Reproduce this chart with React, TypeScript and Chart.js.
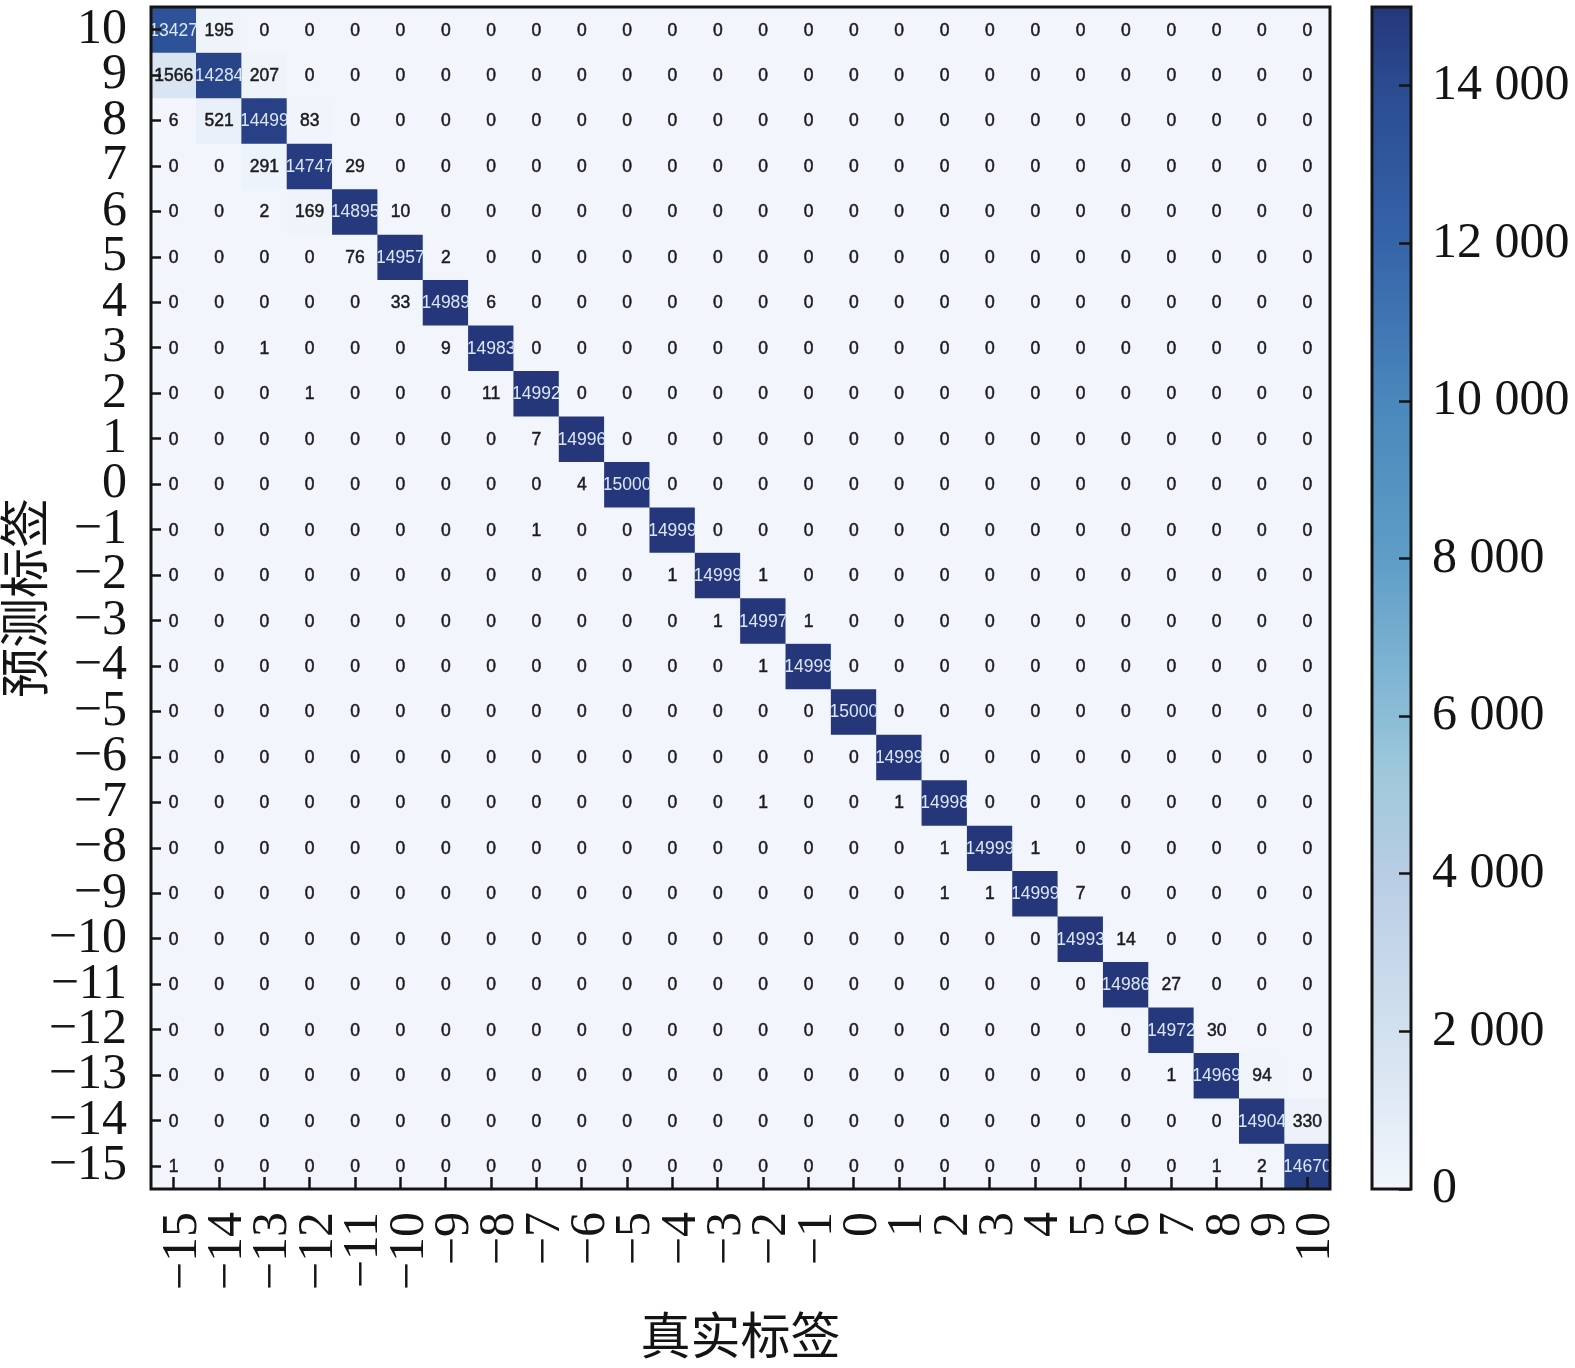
import React, { useEffect, useRef } from "react";
import { Chart, registerables } from "chart.js";

Chart.register(...registerables);

// True labels (x axis, left to right)
const trueLabels = ["−15", "−14", "−13", "−12", "−11", "−10", "−9", "−8", "−7", "−6", "−5", "−4", "−3", "−2", "−1", "0", "1", "2", "3", "4", "5", "6", "7", "8", "9", "10"];
// Predicted labels (y axis, top to bottom)
const predLabels = ["10", "9", "8", "7", "6", "5", "4", "3", "2", "1", "0", "−1", "−2", "−3", "−4", "−5", "−6", "−7", "−8", "−9", "−10", "−11", "−12", "−13", "−14", "−15"];

// Rows of the confusion matrix, one per predicted label (columns follow trueLabels)
const pred10 = [13427, 195, 0, 0, 0, 0, 0, 0, 0, 0, 0, 0, 0, 0, 0, 0, 0, 0, 0, 0, 0, 0, 0, 0, 0, 0];
const pred9 = [1566, 14284, 207, 0, 0, 0, 0, 0, 0, 0, 0, 0, 0, 0, 0, 0, 0, 0, 0, 0, 0, 0, 0, 0, 0, 0];
const pred8 = [6, 521, 14499, 83, 0, 0, 0, 0, 0, 0, 0, 0, 0, 0, 0, 0, 0, 0, 0, 0, 0, 0, 0, 0, 0, 0];
const pred7 = [0, 0, 291, 14747, 29, 0, 0, 0, 0, 0, 0, 0, 0, 0, 0, 0, 0, 0, 0, 0, 0, 0, 0, 0, 0, 0];
const pred6 = [0, 0, 2, 169, 14895, 10, 0, 0, 0, 0, 0, 0, 0, 0, 0, 0, 0, 0, 0, 0, 0, 0, 0, 0, 0, 0];
const pred5 = [0, 0, 0, 0, 76, 14957, 2, 0, 0, 0, 0, 0, 0, 0, 0, 0, 0, 0, 0, 0, 0, 0, 0, 0, 0, 0];
const pred4 = [0, 0, 0, 0, 0, 33, 14989, 6, 0, 0, 0, 0, 0, 0, 0, 0, 0, 0, 0, 0, 0, 0, 0, 0, 0, 0];
const pred3 = [0, 0, 1, 0, 0, 0, 9, 14983, 0, 0, 0, 0, 0, 0, 0, 0, 0, 0, 0, 0, 0, 0, 0, 0, 0, 0];
const pred2 = [0, 0, 0, 1, 0, 0, 0, 11, 14992, 0, 0, 0, 0, 0, 0, 0, 0, 0, 0, 0, 0, 0, 0, 0, 0, 0];
const pred1 = [0, 0, 0, 0, 0, 0, 0, 0, 7, 14996, 0, 0, 0, 0, 0, 0, 0, 0, 0, 0, 0, 0, 0, 0, 0, 0];
const pred0 = [0, 0, 0, 0, 0, 0, 0, 0, 0, 4, 15000, 0, 0, 0, 0, 0, 0, 0, 0, 0, 0, 0, 0, 0, 0, 0];
const predM1 = [0, 0, 0, 0, 0, 0, 0, 0, 1, 0, 0, 14999, 0, 0, 0, 0, 0, 0, 0, 0, 0, 0, 0, 0, 0, 0];
const predM2 = [0, 0, 0, 0, 0, 0, 0, 0, 0, 0, 0, 1, 14999, 1, 0, 0, 0, 0, 0, 0, 0, 0, 0, 0, 0, 0];
const predM3 = [0, 0, 0, 0, 0, 0, 0, 0, 0, 0, 0, 0, 1, 14997, 1, 0, 0, 0, 0, 0, 0, 0, 0, 0, 0, 0];
const predM4 = [0, 0, 0, 0, 0, 0, 0, 0, 0, 0, 0, 0, 0, 1, 14999, 0, 0, 0, 0, 0, 0, 0, 0, 0, 0, 0];
const predM5 = [0, 0, 0, 0, 0, 0, 0, 0, 0, 0, 0, 0, 0, 0, 0, 15000, 0, 0, 0, 0, 0, 0, 0, 0, 0, 0];
const predM6 = [0, 0, 0, 0, 0, 0, 0, 0, 0, 0, 0, 0, 0, 0, 0, 0, 14999, 0, 0, 0, 0, 0, 0, 0, 0, 0];
const predM7 = [0, 0, 0, 0, 0, 0, 0, 0, 0, 0, 0, 0, 0, 1, 0, 0, 1, 14998, 0, 0, 0, 0, 0, 0, 0, 0];
const predM8 = [0, 0, 0, 0, 0, 0, 0, 0, 0, 0, 0, 0, 0, 0, 0, 0, 0, 1, 14999, 1, 0, 0, 0, 0, 0, 0];
const predM9 = [0, 0, 0, 0, 0, 0, 0, 0, 0, 0, 0, 0, 0, 0, 0, 0, 0, 1, 1, 14999, 7, 0, 0, 0, 0, 0];
const predM10 = [0, 0, 0, 0, 0, 0, 0, 0, 0, 0, 0, 0, 0, 0, 0, 0, 0, 0, 0, 0, 14993, 14, 0, 0, 0, 0];
const predM11 = [0, 0, 0, 0, 0, 0, 0, 0, 0, 0, 0, 0, 0, 0, 0, 0, 0, 0, 0, 0, 0, 14986, 27, 0, 0, 0];
const predM12 = [0, 0, 0, 0, 0, 0, 0, 0, 0, 0, 0, 0, 0, 0, 0, 0, 0, 0, 0, 0, 0, 0, 14972, 30, 0, 0];
const predM13 = [0, 0, 0, 0, 0, 0, 0, 0, 0, 0, 0, 0, 0, 0, 0, 0, 0, 0, 0, 0, 0, 0, 1, 14969, 94, 0];
const predM14 = [0, 0, 0, 0, 0, 0, 0, 0, 0, 0, 0, 0, 0, 0, 0, 0, 0, 0, 0, 0, 0, 0, 0, 0, 14904, 330];
const predM15 = [1, 0, 0, 0, 0, 0, 0, 0, 0, 0, 0, 0, 0, 0, 0, 0, 0, 0, 0, 0, 0, 0, 0, 1, 2, 14670];

const counts = [pred10, pred9, pred8, pred7, pred6, pred5, pred4, pred3, pred2, pred1, pred0, predM1, predM2, predM3, predM4, predM5, predM6, predM7, predM8, predM9, predM10, predM11, predM12, predM13, predM14, predM15];

// Colour bar
const colorMin = 0;
const colorMax = 15000;
const colorbarTicks = [0, 2000, 4000, 6000, 8000, 10000, 12000, 14000];
const stopValues = [0, 2000, 4000, 5300, 6000, 8000, 10000, 12000, 14000, 15000];
const stopColors = ["#f2f6fc", "#d2e0ef", "#b8cde4", "#9fc8da", "#8bbdd7", "#5f9dc7", "#4a87bc", "#3664a9", "#2b4b91", "#25377a"];

const axisTitleX = "真实标签";
const axisTitleY = "预测标签";

const SERIF = '"Liberation Serif", "Times New Roman", "Noto Sans CJK SC", serif';
const INK = "#141414";

function hexToRgb(h: string) {
  const n = parseInt(h.slice(1), 16);
  return [(n >> 16) & 255, (n >> 8) & 255, n & 255];
}

function colorFor(v: number) {
  const t = Math.max(colorMin, Math.min(colorMax, v));
  for (let i = 1; i < stopValues.length; i++) {
    if (t <= stopValues[i]) {
      const f = (t - stopValues[i - 1]) / (stopValues[i] - stopValues[i - 1]);
      const a = hexToRgb(stopColors[i - 1]);
      const b = hexToRgb(stopColors[i]);
      const c = a.map((x, k) => Math.round(x + (b[k] - x) * f));
      return `rgb(${c[0]},${c[1]},${c[2]})`;
    }
  }
  return stopColors[stopColors.length - 1];
}

function noEdgePadding(s: any) {
  s.paddingLeft = 0;
  s.paddingRight = 0;
  s.paddingTop = 0;
  s.paddingBottom = 0;
}

const framePlugin = {
  id: "frame",
  afterDraw(chart: any) {
    const { ctx, chartArea: a } = chart;
    ctx.save();
    ctx.strokeStyle = INK;
    ctx.lineWidth = 3;
    ctx.strokeRect(a.left, a.top, a.right - a.left, a.bottom - a.top);
    ctx.restore();
  },
};

const cellLabelPlugin = {
  id: "cellLabels",
  afterDatasetsDraw(chart: any) {
    const ctx = chart.ctx;
    ctx.save();
    ctx.font = '17.5px "Liberation Sans", Arial, sans-serif';
    ctx.textAlign = "center";
    ctx.textBaseline = "middle";
    counts.forEach((row, r) => {
      const meta = chart.getDatasetMeta(r);
      meta.data.forEach((el: any, c: number) => {
        const p = el.getProps(["x", "y", "base", "width"], true);
        const top = Math.min(p.y, p.base);
        const h = Math.abs(p.base - p.y);
        const dark = row[c] > colorMax / 2;
        ctx.save();
        ctx.beginPath();
        ctx.rect(p.x - p.width / 2, top, p.width, h);
        ctx.clip();
        ctx.fillStyle = dark ? "#dce7f6" : "#1c1c1c";
        ctx.fillText(String(row[c]), p.x, top + h / 2 + 1);
        if (!dark) {
          ctx.strokeStyle = "#1c1c1c";
          ctx.lineWidth = 0.5;
          ctx.strokeText(String(row[c]), p.x, top + h / 2 + 1);
        }
        ctx.restore();
      });
    });
    ctx.restore();
  },
};

function fmt(v: number) {
  return String(v).replace(/\B(?=(\d{3})+(?!\d))/g, " ");
}

export default function App() {
  const mainRef = useRef<HTMLCanvasElement>(null);
  const barRef = useRef<HTMLCanvasElement>(null);

  useEffect(() => {
    const n = predLabels.length;
    const main = new Chart(mainRef.current as HTMLCanvasElement, {
      type: "bar",
      data: {
        labels: trueLabels,
        datasets: counts.map((row, r) => ({
          label: predLabels[r],
          data: row.map(() => [n - 1 - r, n - r]),
          backgroundColor: row.map(colorFor),
          borderWidth: 0,
          grouped: false,
          barPercentage: 1,
          categoryPercentage: 1,
        })) as any,
      },
      options: {
        responsive: false,
        animation: false,
        events: [],
        layout: { padding: { top: 7, right: 15, bottom: 0, left: 0 } },
        plugins: { legend: { display: false }, tooltip: { enabled: false } },
        scales: {
          x: {
            type: "category",
            position: "bottom",
            offset: true,
            afterFit: (s: any) => {
              s.height = 179;
              noEdgePadding(s);
            },
            grid: { z: 1, display: true, drawOnChartArea: false, drawTicks: true, tickLength: -12, tickWidth: 2.5, tickColor: INK, offset: false },
            border: { display: false },
            ticks: {
              autoSkip: false,
              minRotation: 90,
              maxRotation: 90,
              padding: 35,
              labelOffset: 9,
              color: INK,
              font: { family: SERIF, size: 50 },
            },
            title: { display: true, text: axisTitleX, color: INK, font: { family: SERIF, size: 50 }, padding: { top: 0, bottom: -3 } },
          } as any,
          y: {
            type: "linear",
            min: 0,
            max: n,
            afterFit: (s: any) => {
              s.width = 151;
              noEdgePadding(s);
            },
            afterBuildTicks: (s: any) => {
              s.ticks = predLabels.map((_, i) => ({ value: n - 0.5 - i }));
            },
            grid: { z: 1, display: true, drawOnChartArea: false, drawTicks: true, tickLength: -10, tickWidth: 2.5, tickColor: INK },
            border: { display: false },
            ticks: {
              autoSkip: false,
              padding: 34,
              color: INK,
              font: { family: SERIF, size: 50 },
              callback: (v: any) => predLabels[Math.round(n - 0.5 - Number(v))],
            },
            title: { display: true, text: axisTitleY, color: INK, font: { family: SERIF, size: 50 }, padding: { top: 0, bottom: 0 } },
          } as any,
        },
      },
      plugins: [cellLabelPlugin, framePlugin],
    });

    const bar = new Chart(barRef.current as HTMLCanvasElement, {
      type: "bar",
      data: {
        labels: [""],
        datasets: [
          {
            data: [[colorMin, colorMax]] as any,
            borderWidth: 0,
            barPercentage: 1,
            categoryPercentage: 1,
            backgroundColor: (ctx: any) => {
              const chart = ctx.chart;
              const ys = chart.scales && chart.scales.y;
              if (!chart.chartArea || !ys) return stopColors[0];
              const y0 = ys.getPixelForValue(colorMin);
              const y1 = ys.getPixelForValue(colorMax);
              const g = chart.ctx.createLinearGradient(0, y0, 0, y1);
              stopValues.forEach((v, i) => g.addColorStop((v - colorMin) / (colorMax - colorMin), stopColors[i]));
              return g;
            },
          },
        ],
      },
      options: {
        responsive: false,
        animation: false,
        events: [],
        layout: { padding: { top: 7, left: 27, right: 0, bottom: 179 } },
        plugins: { legend: { display: false }, tooltip: { enabled: false } },
        scales: {
          x: { display: false },
          y: {
            position: "right",
            min: colorMin,
            max: colorMax,
            afterFit: (s: any) => {
              s.width = 164;
              noEdgePadding(s);
            },
            afterBuildTicks: (s: any) => {
              s.ticks = colorbarTicks.map((v) => ({ value: v }));
            },
            grid: { z: 1, display: true, drawOnChartArea: false, drawTicks: true, tickLength: -12, tickWidth: 2.5, tickColor: INK },
            border: { display: false },
            ticks: {
              autoSkip: false,
              padding: 33,
              color: INK,
              font: { family: SERIF, size: 50 },
              callback: (v: any) => fmt(Number(v)),
            },
          } as any,
        },
      },
      plugins: [framePlugin],
    });

    return () => {
      main.destroy();
      bar.destroy();
    };
  }, []);

  return (
    <div style={{ position: "absolute", left: 0, top: 0, width: 1575, height: 1368, background: "#fff" }}>
      <canvas ref={mainRef} width={1345} height={1368} style={{ position: "absolute", left: 0, top: 0, width: 1345, height: 1368 }} />
      <canvas ref={barRef} width={230} height={1368} style={{ position: "absolute", left: 1345, top: 0, width: 230, height: 1368 }} />
    </div>
  );
}
